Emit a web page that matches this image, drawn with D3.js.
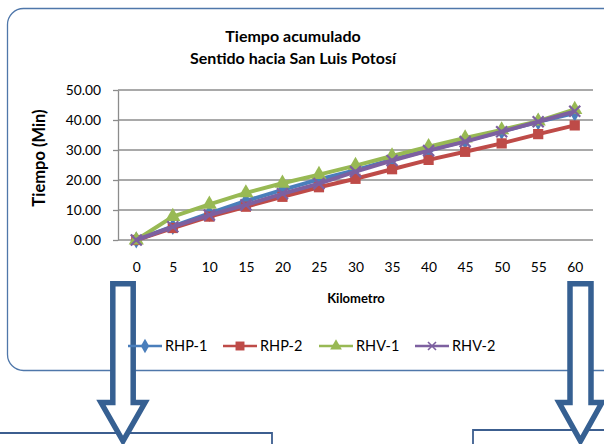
<!DOCTYPE html>
<html><head><meta charset="utf-8">
<script src="https://cdn.jsdelivr.net/npm/d3@7"></script>
<style>
html,body{margin:0;padding:0;background:#fff;}
svg{display:block;font-family:Lato,"Open Sans",sans-serif;}
</style></head>
<body>
<svg id="c" width="604" height="444"></svg>
<script>
const categories = ["0","5","10","15","20","25","30","35","40","45","50","55","60"];
const seriesNames = ["RHP-1","RHP-2","RHV-1","RHV-2"];
const rhp1 = [0, 4.5, 8.9, 13.0, 16.7, 20.2, 23.3, 26.8, 29.9, 33.0, 36.2, 39.4, 42.3];
const rhp2 = [0, 4.0, 7.8, 11.1, 14.4, 17.6, 20.4, 23.6, 26.7, 29.4, 32.2, 35.3, 38.2];
const rhv1 = [0, 7.8, 11.9, 15.7, 18.9, 21.8, 24.8, 28.0, 31.1, 34.0, 36.7, 39.6, 43.5];
const rhv2 = [0, 4.4, 8.3, 11.7, 15.4, 18.8, 22.8, 26.5, 29.8, 32.8, 36.1, 39.4, 42.9];
const yTicks = [0, 10, 20, 30, 40, 50];
const titleLines = ["Tiempo acumulado", "Sentido hacia San Luis Potosí"];
const xTitle = "Kilometro";
const yTitle = "Tiempo (Min)";

const colors = ["#4A7EBB", "#BE4B48", "#98B954", "#7D60A0"];
const symbols = [d3.symbolDiamond, d3.symbolSquare, d3.symbolTriangle, d3.symbolCross];
const allValues = [rhp1, rhp2, rhv1, rhv2];

const svg = d3.select("#c");

// chart frame
svg.append("rect").attr("x",7.5).attr("y",8.5).attr("width",612).attr("height",362)
  .attr("rx",16).attr("ry",16).attr("fill","#fff").attr("stroke","#4F77AA").attr("stroke-width",1.3);

const x = d3.scalePoint().domain(categories).range([118, 593]).padding(0.5);
const y = d3.scaleLinear().domain([0, 50]).range([240, 90]);

// gridlines
svg.append("g").selectAll("line").data(yTicks.slice(1)).join("line")
  .attr("x1",118).attr("x2",593).attr("y1",d=>y(d)).attr("y2",d=>y(d))
  .attr("stroke","#8C8C8C").attr("stroke-width",1.3);

// y axis
const ya = svg.append("g").attr("transform","translate(118,0)")
  .call(d3.axisLeft(y).tickValues(yTicks).tickFormat(d3.format(".2f")).tickSize(5).tickSizeOuter(0).tickPadding(12));
ya.select(".domain").attr("stroke","#8C8C8C").attr("stroke-width",1.3);
ya.selectAll(".tick line").attr("stroke","#8C8C8C").attr("stroke-width",1.3);
ya.selectAll(".tick text").attr("font-family","Lato").attr("font-size",13.8).attr("fill","#000");

// x axis
const xa = svg.append("g").attr("transform","translate(0,240)")
  .call(d3.axisBottom(x).tickSize(0).tickPadding(22));
xa.select(".domain").attr("d","M118,0H593").attr("stroke","#8C8C8C").attr("stroke-width",1.3);
xa.selectAll(".tick text").attr("font-family","Lato").attr("font-size",13.8).attr("fill","#000");

// titles
svg.append("g").selectAll("text").data(titleLines).join("text")
  .attr("x",293).attr("y",(d,i)=>42+i*22).attr("text-anchor","middle")
  .attr("font-weight","bold").attr("font-size",16).text(d=>d);
svg.append("text").attr("x",356).attr("y",303).attr("text-anchor","middle")
  .attr("font-weight","bold").attr("font-size",13).text(xTitle);
svg.append("text").attr("transform","translate(45,158) rotate(-90)").attr("text-anchor","middle")
  .attr("font-weight","bold").attr("font-size",16.5).text(yTitle);

// series
const line = d3.line().x((d,i)=>x(categories[i])).y(d=>y(d));
const gS = svg.append("g");
allValues.forEach((vals, s) => {
  const g = gS.append("g");
  g.append("path").datum(vals).attr("d", line).attr("fill","none")
    .attr("stroke", colors[s]).attr("stroke-width", 4).attr("stroke-linejoin","round");
  if (s === 3) {
    g.selectAll("path.x").data(vals).join("path").attr("class","x")
      .attr("transform",(d,i)=>`translate(${x(categories[i])},${y(d)})`)
      .attr("d","M-5.5,-5.5L5.5,5.5M-5.5,5.5L5.5,-5.5").attr("stroke",colors[s]).attr("stroke-width",2.2).attr("fill","none");
  } else {
    g.selectAll("path.m").data(vals).join("path").attr("class","m")
      .attr("transform",(d,i)=>`translate(${x(categories[i])},${y(d)})`)
      .attr("d", d3.symbol().type(symbols[s]).size(s===1?105: s===2?100: 85))
      .attr("fill", colors[s]);
  }
});

// boxes below
svg.append("path").attr("d","M-2,433H272V450").attr("fill","none").attr("stroke","#3C5E8F").attr("stroke-width",1.8);
svg.append("path").attr("d","M473,450V430H610").attr("fill","none").attr("stroke","#3C5E8F").attr("stroke-width",1.8);

// block arrows
function arrow(cx, shaftHalf, headHalf, top, headY, tip){
  return `M${cx-shaftHalf},${top}H${cx+shaftHalf}V${headY}H${cx+headHalf}L${cx},${tip}L${cx-headHalf},${headY}H${cx-shaftHalf}Z`;
}
svg.append("path").attr("d", arrow(123, 10.2, 22, 283.8, 402.5, 441))
  .attr("fill","#fff").attr("stroke","#366092").attr("stroke-width",5.5).attr("stroke-linejoin","miter");
svg.append("path").attr("d", arrow(580.5, 10.5, 21.5, 283.8, 402.5, 441))
  .attr("fill","#fff").attr("stroke","#366092").attr("stroke-width",5.5).attr("stroke-linejoin","miter");

// legend
const legX = [128, 223, 319, 415];
const leg = svg.append("g").selectAll("g").data(seriesNames).join("g")
  .attr("transform",(d,i)=>`translate(${legX[i]},346)`);
leg.append("line").attr("x1",0).attr("x2",34).attr("stroke",(d,i)=>colors[i]).attr("stroke-width",2.6);
leg.each(function(d,i){
  const g = d3.select(this);
  if (i===3) {
    g.append("path").attr("d","M13,-4L21,4M13,4L21,-4").attr("stroke",colors[i]).attr("stroke-width",1.6);
  } else {
    g.append("path").attr("transform","translate(17,0)")
      .attr("d", d3.symbol().type(symbols[i]).size(i===1?80:60)).attr("fill",colors[i]);
  }
});
leg.append("text").attr("x",37).attr("y",5).attr("font-size",14.5).attr("fill","#000").text(d=>d);
</script>
</body></html>
